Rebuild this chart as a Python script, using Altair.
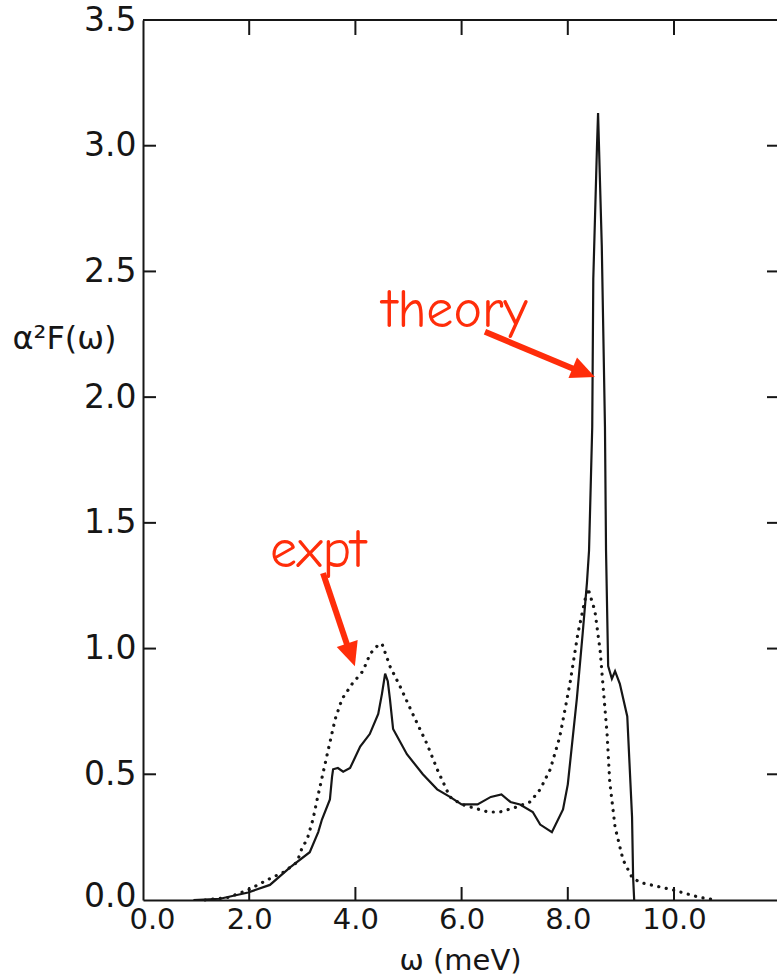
import altair as alt
import pandas as pd

# ---- data ----
theory_w = [0.95, 1.45, 1.98, 2.39, 2.77, 3.14, 3.30, 3.37, 3.52, 3.56, 3.58, 3.67, 3.77, 3.90,
            4.09, 4.27, 4.43, 4.50, 4.56, 4.61, 4.65, 4.71, 4.97, 5.27, 5.54, 5.78, 6.00, 6.30,
            6.55, 6.75, 6.92, 7.10, 7.34, 7.48, 7.70, 7.91, 8.00, 8.17, 8.28, 8.36, 8.40, 8.46,
            8.48, 8.55, 8.57, 8.64, 8.70, 8.72, 8.76, 8.83, 8.89, 8.98, 9.12, 9.21, 9.23, 9.25]
theory_a = [0.0, 0.005, 0.03, 0.06, 0.13, 0.19, 0.27, 0.32, 0.40, 0.49, 0.52, 0.525, 0.51, 0.525,
            0.61, 0.66, 0.74, 0.82, 0.90, 0.87, 0.80, 0.68, 0.58, 0.50, 0.44, 0.41, 0.38, 0.38,
            0.41, 0.42, 0.39, 0.38, 0.35, 0.30, 0.27, 0.36, 0.46, 0.80, 1.06, 1.26, 1.39, 1.88,
            2.47, 3.00, 3.13, 2.60, 1.88, 1.39, 0.93, 0.88, 0.91, 0.86, 0.73, 0.33, 0.09, 0.0]

expt_w = [1.17, 1.60, 1.98, 2.34, 2.64, 2.90, 3.00, 3.09, 3.20, 3.28, 3.47, 3.62, 3.75, 3.94,
          4.14, 4.28, 4.41, 4.50, 4.65, 4.84, 5.08, 5.35, 5.54, 5.78, 6.00, 6.50, 6.72, 7.04,
          7.29, 7.48, 7.67, 7.85, 8.04, 8.19, 8.32, 8.38, 8.51, 8.61, 8.66, 8.74, 8.79, 8.89,
          9.04, 9.21, 9.36, 9.98, 10.49, 10.81]
expt_a = [0.0, 0.01, 0.04, 0.08, 0.11, 0.15, 0.21, 0.24, 0.32, 0.40, 0.58, 0.72, 0.80, 0.86,
          0.91, 0.98, 1.01, 1.02, 0.93, 0.85, 0.74, 0.62, 0.52, 0.41, 0.38, 0.35, 0.35, 0.37,
          0.39, 0.44, 0.52, 0.65, 0.86, 1.06, 1.19, 1.24, 1.15, 0.99, 0.86, 0.66, 0.47, 0.29,
          0.16, 0.09, 0.07, 0.04, 0.01, 0.0]

x_tick_values = [0, 2, 4, 6, 8, 10]
y_tick_values = [0, 0.5, 1.0, 1.5, 2.0, 2.5, 3.0, 3.5]
x_inner_ticks = [2, 4, 6, 8, 10]
y_inner_ticks = [0.5, 1.0, 1.5, 2.0, 2.5, 3.0]

labels_text = ["theory", "expt"]
labels_w = [4.50, 2.39]
labels_a = [2.279, 1.325]
arrow_start_w = [6.44, 3.39]
arrow_start_a = [2.26, 1.30]
arrow_end_w = [8.25, 3.90]
arrow_end_a = [2.10, 0.98]
arrow_tip_w = [8.51, 3.99]
arrow_tip_a = [2.08, 0.93]
arrow_angle = [112.7, 161.4]

W, H = 634, 880
INK = "#161616"
RED = "#ff2d0a"

theory = pd.DataFrame({"w": theory_w, "a": theory_a})
expt = pd.DataFrame({"w": expt_w, "a": expt_a})
xt = pd.DataFrame({"w": x_inner_ticks})
yt = pd.DataFrame({"a": y_inner_ticks})
labels = pd.DataFrame({"t": labels_text, "w": labels_w, "a": labels_a})
arrows = pd.DataFrame({"w": arrow_start_w, "a": arrow_start_a,
                       "w2": arrow_end_w, "a2": arrow_end_a})
heads = pd.DataFrame({"w": arrow_tip_w, "a": arrow_tip_a, "ang": arrow_angle})

xscale = alt.Scale(domain=[0, W / 53.1], nice=False, zero=False)
yscale = alt.Scale(domain=[0, 3.5], nice=False)

xaxis = alt.Axis(values=x_tick_values, format=".1f", tickSize=0, grid=False,
                 domain=True, domainColor=INK, domainWidth=2,
                 labelFont="DejaVu Sans", labelFontSize=29, labelColor=INK,
                 labelPadding=5, labelFlush=False,
                 labelOffset={"condition": {"test": "datum.value == 0", "value": 9}, "value": 0},
                 title="ω (meV)", titleFont="DejaVu Sans", titleFontSize=29,
                 titleFontWeight="normal", titleColor=INK, titleY=69,
                 titleBaseline="alphabetic")
yaxis = alt.Axis(values=y_tick_values, format=".1f", tickSize=0, grid=False,
                 domain=True, domainColor=INK, domainWidth=2,
                 labelFont="DejaVu Sans", labelFontSize=33, labelColor=INK,
                 labelPadding=7, labelFlush=False,
                 labelOffset={"condition": {"test": "datum.value == 0", "value": -4}, "value": 0},
                 title="α²F(ω)", titleFont="DejaVu Sans", titleFontSize=32,
                 titleFontWeight="normal", titleColor=INK, titleAngle=0,
                 titleAlign="left", titleBaseline="alphabetic", titleX=-131, titleY=328)

theory_line = alt.Chart(theory).mark_line(color=INK, strokeWidth=2.2).encode(
    x=alt.X("w:Q", scale=xscale, axis=xaxis),
    y=alt.Y("a:Q", scale=yscale, axis=yaxis),
)
expt_line = alt.Chart(expt).mark_line(color=INK, strokeWidth=3.2, strokeDash=[0.1, 7.5],
                                      strokeCap="round").encode(
    x=alt.X("w:Q", scale=xscale),
    y=alt.Y("a:Q", scale=yscale),
)

top_border = alt.Chart(xt).mark_rule(color=INK, strokeWidth=2).encode(
    x=alt.value(0), x2=alt.value(W), y=alt.value(0))

bottom_ticks = alt.Chart(xt).mark_rule(color=INK, strokeWidth=2).encode(
    x=alt.X("w:Q", scale=xscale), y=alt.value(H), y2=alt.value(H - 13))
top_ticks = alt.Chart(xt).mark_rule(color=INK, strokeWidth=2).encode(
    x=alt.X("w:Q", scale=xscale), y=alt.value(0), y2=alt.value(15))
left_ticks = alt.Chart(yt).mark_rule(color=INK, strokeWidth=2).encode(
    y=alt.Y("a:Q", scale=yscale), x=alt.value(0), x2=alt.value(13))
right_ticks = alt.Chart(yt).mark_rule(color=INK, strokeWidth=2).encode(
    y=alt.Y("a:Q", scale=yscale), x=alt.value(W), x2=alt.value(W - 10))

label_text = alt.Chart(labels).mark_text(
    color=RED, font="Comic Sans MS, Comic Neue, Noto Sans", fontSize=54,
    align="left", baseline="alphabetic").encode(
    x=alt.X("w:Q", scale=xscale), y=alt.Y("a:Q", scale=yscale), text="t:N")

arrow_shaft = alt.Chart(arrows).mark_rule(color=RED, strokeWidth=6).encode(
    x=alt.X("w:Q", scale=xscale), y=alt.Y("a:Q", scale=yscale),
    x2="w2:Q", y2="a2:Q")

arrow_head = alt.Chart(heads).mark_point(
    shape="M0,0 L-0.46,1 L0.46,1 Z", filled=True, color=RED, opacity=1,
    size=2304, strokeWidth=0).encode(
    x=alt.X("w:Q", scale=xscale), y=alt.Y("a:Q", scale=yscale),
    angle=alt.Angle("ang:Q", scale=None))

chart = alt.layer(
    theory_line, expt_line, top_border, bottom_ticks, top_ticks, left_ticks, right_ticks,
    arrow_shaft, arrow_head, label_text
).properties(
    width=W, height=H,
    padding={"left": 143, "top": 20, "right": 0, "bottom": 77},
    autosize=alt.AutoSizeParams(type="none"),
    background="white",
).configure_view(stroke=None)

chart.save("out.html", embed_options={"renderer": "svg", "actions": False})
